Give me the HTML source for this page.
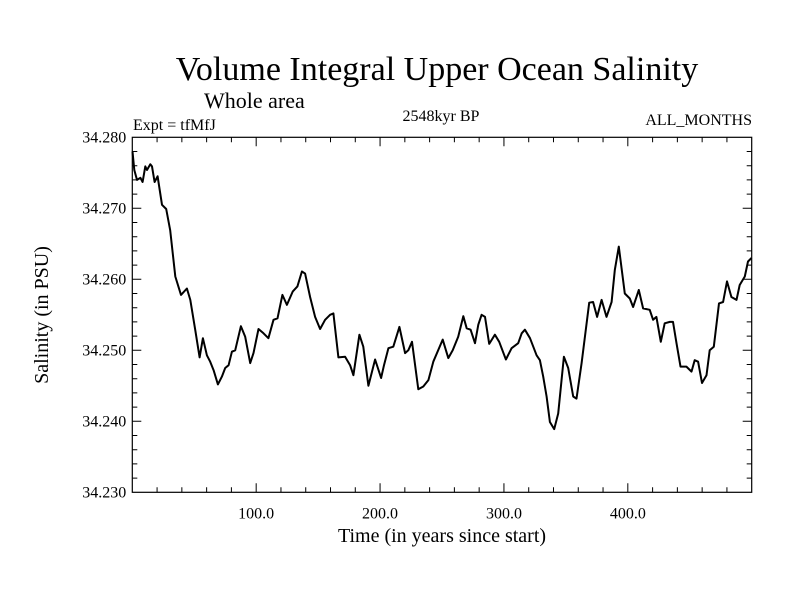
<!DOCTYPE html>
<html><head><meta charset="utf-8"><style>
body{margin:0;background:#fff}
svg text{font-family:"Liberation Serif",serif;fill:#000}
</style></head><body>
<svg id="c" width="800" height="600" xmlns="http://www.w3.org/2000/svg">
<text x="437" y="80" font-size="34" text-anchor="middle">Volume Integral Upper Ocean Salinity</text>
<text x="204" y="108" font-size="22">Whole area</text>
<text x="133" y="130" font-size="16">Expt = tfMfJ</text>
<text x="441" y="121" font-size="16" text-anchor="middle">2548kyr BP</text>
<text x="752" y="125" font-size="16" text-anchor="end">ALL_MONTHS</text>
<text x="442" y="542" font-size="20" text-anchor="middle">Time (in years since start)</text>
<text transform="translate(48,315) rotate(-90)" font-size="20" text-anchor="middle">Salinity (in PSU)</text>
<g id="axes"></g>
<path id="line" fill="none" stroke="#000" stroke-width="2" stroke-linejoin="round"/>
</svg>
<script>
const years=[0.2,1.6,3.8,6.5,8.3,10.5,11.9,14.5,15.9,18,20.4,24,27.4,30.6,34.7,39.3,44.1,46.8,50.8,54.3,57,60.2,62.9,65.6,69.1,72.3,75,77.7,80.4,83.1,87.7,91.1,95.2,97.8,101.9,105.9,109.9,114,117.2,121.2,124.8,129.6,133.3,136.9,139.5,143.5,147.6,151.6,155.6,159.7,162.3,166.4,171.8,175.8,178.5,183.3,186.5,190.6,196,200.8,203.2,206.7,210.7,215.6,220.2,222.8,225.8,230.9,234.9,239,243,250.6,255.1,258.6,263.1,267.2,269.9,273.1,276.6,279.3,282,284.7,288.1,292.7,296.2,301.6,306.2,311.5,314.3,316.9,321,326.4,329,331.7,334.4,337.1,340.6,343.8,348.4,351.9,355.9,358.6,362.7,368.8,372,375.2,378.8,382.8,386.9,389.5,392.7,397.6,401.6,404.3,408.9,412.3,417.7,420.4,423.1,426.6,429.8,433.9,436.5,439.3,442.5,447.3,451.4,454,456.7,459.9,463.5,466.1,469.4,473.6,476.9,480.1,483.6,487.7,490.3,494.4,497,499.8];
const salinity=[34.2780,34.2754,34.2740,34.2743,34.2737,34.2759,34.2754,34.2762,34.2759,34.2737,34.2745,34.2705,34.2699,34.2669,34.2604,34.2578,34.2587,34.2571,34.2529,34.2490,34.2517,34.2493,34.2484,34.2472,34.2452,34.2463,34.2475,34.2479,34.2498,34.2500,34.2534,34.2519,34.2482,34.2496,34.2530,34.2524,34.2517,34.2543,34.2545,34.2578,34.2564,34.2583,34.2590,34.2611,34.2608,34.2575,34.2547,34.2530,34.2543,34.2550,34.2552,34.2490,34.2491,34.2479,34.2465,34.2522,34.2505,34.2450,34.2487,34.2461,34.2479,34.2503,34.2505,34.2533,34.2496,34.2500,34.2512,34.2445,34.2449,34.2458,34.2484,34.2515,34.2489,34.2500,34.2519,34.2548,34.2531,34.2529,34.2510,34.2536,34.2550,34.2547,34.2509,34.2522,34.2512,34.2487,34.2503,34.2510,34.2524,34.2529,34.2517,34.2493,34.2486,34.2463,34.2435,34.2399,34.2389,34.2411,34.2491,34.2475,34.2435,34.2432,34.2482,34.2567,34.2568,34.2547,34.2571,34.2547,34.2568,34.2613,34.2646,34.2580,34.2573,34.2561,34.2585,34.2559,34.2557,34.2543,34.2547,34.2512,34.2538,34.2540,34.2540,34.2510,34.2477,34.2477,34.2470,34.2486,34.2484,34.2454,34.2465,34.2500,34.2505,34.2566,34.2568,34.2597,34.2575,34.2571,34.2592,34.2604,34.2625,34.2630];
const xTickLabels=["100.0","200.0","300.0","400.0"];
const xTickValues=[100,200,300,400];
const yTickLabels=["34.230","34.240","34.250","34.260","34.270","34.280"];
const yTickValues=[34.23,34.24,34.25,34.26,34.27,34.28];
const L=132.3,R=751.7,T=137.3,B=492.3,X0=0,X1=500,Y0=34.23,Y1=34.28;
const sx=v=>L+(v-X0)/(X1-X0)*(R-L), sy=v=>B-(v-Y0)/(Y1-Y0)*(B-T);
const NS="http://www.w3.org/2000/svg", g=document.getElementById('axes');
function mk(t,a){const e=document.createElementNS(NS,t);for(const k in a)e.setAttribute(k,a[k]);g.appendChild(e);return e;}
const box=mk('rect',{x:L,y:T,width:R-L,height:B-T,fill:'none',stroke:'#000','stroke-width':1.2});


let d='';
for(let v=20;v<500;v+=20){const x=sx(v),len=(v%100===0)?9:5;d+=`M${x},${B}V${B-len}M${x},${T}V${T+len}`;}
for(let i=1;i<25;i++){const v=Y0+i*0.002,y=sy(v),len=(i%5===0)?9:5;d+=`M${L},${y}H${L+len}M${R},${y}H${R-len}`;}
const tk=mk('path',{d:d,stroke:'#000','stroke-width':1,fill:'none'});


xTickValues.forEach((v,i)=>{const t=mk('text',{x:sx(v),y:B+26,'font-size':16,'text-anchor':'middle'});t.textContent=xTickLabels[i];

});
yTickValues.forEach((v,i)=>{const t=mk('text',{x:L-6,y:sy(v)+5,'font-size':16,'text-anchor':'end'});t.textContent=yTickLabels[i];

});
document.getElementById('line').setAttribute('d',years.map((y,i)=>(i?'L':'M')+sx(y).toFixed(1)+','+sy(salinity[i]).toFixed(1)).join(''));
</script>
</body></html>
